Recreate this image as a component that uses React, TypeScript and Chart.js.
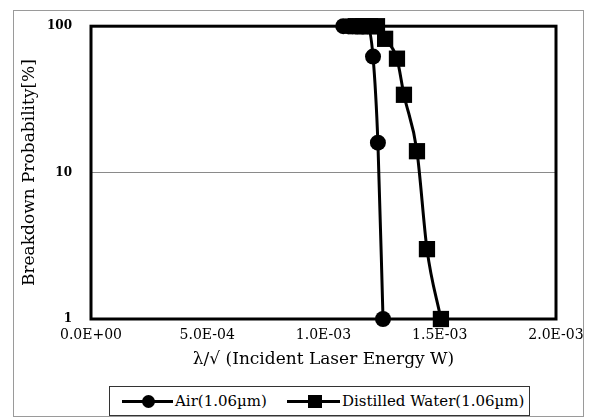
import React, { useEffect, useRef } from "react";
import { Chart, registerables } from "chart.js";

Chart.register(...registerables);

const airX = [1.085e-3, 1.105e-3, 1.125e-3, 1.145e-3, 1.165e-3, 1.19e-3, 1.213e-3, 1.234e-3, 1.256e-3];
const airY = [100, 100, 100, 100, 100, 100, 62, 16, 1];
const waterX = [1.14e-3, 1.17e-3, 1.2e-3, 1.23e-3, 1.265e-3, 1.316e-3, 1.346e-3, 1.402e-3, 1.445e-3, 1.505e-3];
const waterY = [100, 100, 100, 100, 82, 60, 34, 14, 3.0, 1];
const xTickValues = [0, 5e-4, 1e-3, 1.5e-3, 2e-3];
const xTickLabels = ["0.0E+00", "5.0E-04", "1.0E-03", "1.5E-03", "2.0E-03"];
const yTickValues = [1, 10, 100];
const yTickLabels = ["1", "10", "100"];
const seriesNames = ["Air(1.06µm)", "Distilled Water(1.06µm)"];

const FONT = "'DejaVu Serif', 'Liberation Serif', serif";

export default function App() {
  const ref = useRef<HTMLCanvasElement | null>(null);

  useEffect(() => {
    if (!ref.current) return;
    const borderPlugin = {
      id: "plotBorder",
      beforeDatasetsDraw(chart: any) {
        const { ctx, chartArea } = chart;
        ctx.save();
        ctx.strokeStyle = "#000";
        ctx.lineWidth = 3;
        ctx.strokeRect(chartArea.left, chartArea.top, chartArea.right - chartArea.left, chartArea.bottom - chartArea.top);
        ctx.restore();
      },
    };
    const chart = new Chart(ref.current, {
      type: "line",
      data: {
        datasets: [
          {
            label: seriesNames[0],
            data: airX.map((x, i) => ({ x, y: airY[i] })),
            borderColor: "#000",
            backgroundColor: "#000",
            borderWidth: 3,
            pointStyle: "circle",
            pointRadius: 8,
            pointBorderWidth: 0,
            cubicInterpolationMode: "monotone",
            clip: false as any,
          },
          {
            label: seriesNames[1],
            data: waterX.map((x, i) => ({ x, y: waterY[i] })),
            borderColor: "#000",
            backgroundColor: "#000",
            borderWidth: 3,
            pointStyle: "rect",
            pointRadius: 11.5,
            pointBorderWidth: 0,
            cubicInterpolationMode: "monotone",
            clip: false as any,
          },
        ],
      },
      options: {
        animation: false,
        responsive: false,
        maintainAspectRatio: false,
        layout: { padding: { left: 0, top: 23, right: 36, bottom: 38 } },
        plugins: { legend: { display: false }, tooltip: { enabled: false } },
        scales: {
          x: {
            type: "linear",
            min: 0,
            max: 2e-3,
            afterFit: (s: any) => {
              s.height = 60;
            },
            afterBuildTicks: (s: any) => {
              s.ticks = xTickValues.map((v) => ({ value: v }));
            },
            ticks: {
              color: "#000",
              font: { family: FONT, size: 14 },
              padding: 8,
              maxRotation: 0,
              autoSkip: false,
              callback: (_v: any, i: number) => xTickLabels[i],
            },
            grid: { display: false, drawTicks: false },
            border: { display: false },
            title: {
              display: true,
              text: "λ/√ (Incident Laser Energy W)",
              color: "#000",
              font: { family: FONT, size: 17 },
              padding: { top: 0, bottom: 9 },
            },
          },
          y: {
            type: "logarithmic",
            min: 1,
            max: 100,
            afterFit: (s: any) => {
              s.width = 91;
            },
            afterBuildTicks: (s: any) => {
              s.ticks = yTickValues.map((v) => ({ value: v }));
            },
            ticks: {
              color: "#000",
              font: { family: FONT, size: 12, weight: "bold" },
              padding: 19,
              autoSkip: false,
              callback: (_v: any, i: number) => yTickLabels[i],
            },
            grid: {
              drawTicks: false,
              lineWidth: 1,
              color: (c: any) => (c.tick && c.tick.value === 10 ? "#8a8a8a" : "rgba(0,0,0,0)"),
            },
            border: { display: false },
            title: {
              display: true,
              text: "Breakdown Probability[%]",
              color: "#000",
              font: { family: FONT, size: 17 },
              padding: { top: 19, bottom: 0 },
            },
          },
        },
      },
      plugins: [borderPlugin],
    });
    return () => chart.destroy();
  }, []);

  const textStyle: React.CSSProperties = {
    position: "absolute",
    fontFamily: FONT,
    fontSize: 15,
    color: "#000",
    top: 392,
    lineHeight: "18px",
    whiteSpace: "nowrap",
  };

  return (
    <div style={{ position: "fixed", left: 0, top: 0, width: 592, height: 417, background: "#fff", overflow: "hidden" }}>
      <div style={{ position: "absolute", left: 13, top: 10, width: 569, height: 405, border: "1px solid #9a9a9a" }} />
      <canvas ref={ref} width={592} height={417} style={{ position: "absolute", left: 0, top: 0, width: 592, height: 417 }} />
      <div style={{ position: "absolute", left: 109, top: 386, width: 419, height: 28, border: "1px solid #333", background: "#fff" }} />
      <div style={{ position: "absolute", left: 122, top: 400, width: 51, height: 3, background: "#000" }} />
      <div style={{ position: "absolute", left: 142, top: 395, width: 13, height: 13, borderRadius: "50%", background: "#000" }} />
      <div style={{ ...textStyle, left: 175 }}>{seriesNames[0]}</div>
      <div style={{ position: "absolute", left: 287, top: 400, width: 53, height: 3, background: "#000" }} />
      <div style={{ position: "absolute", left: 308, top: 395, width: 14, height: 13, background: "#000" }} />
      <div style={{ ...textStyle, left: 342 }}>{seriesNames[1]}</div>
    </div>
  );
}
